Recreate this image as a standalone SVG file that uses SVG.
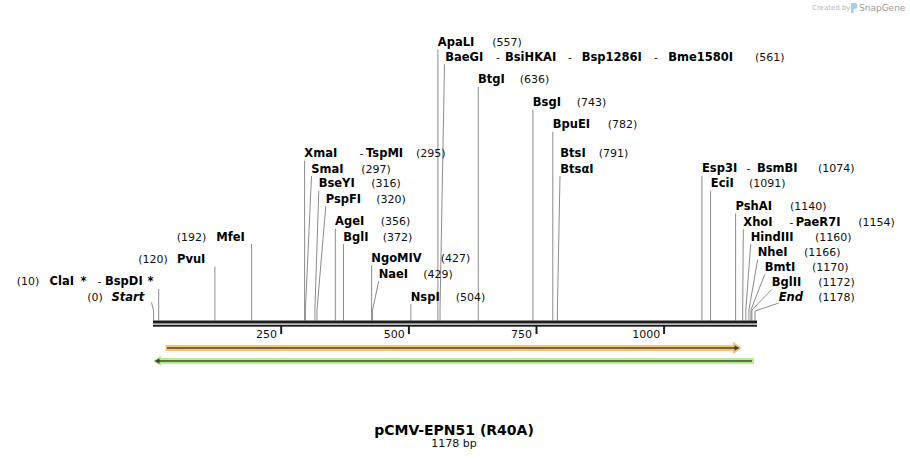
<svg xmlns="http://www.w3.org/2000/svg" width="910" height="460" viewBox="0 0 910 460">
<style>
.n{font-family:"DejaVu Sans",Verdana,sans-serif;font-size:11.5px;font-weight:bold;fill:#000}
.i{font-style:italic}
.p{font-family:"DejaVu Sans",Verdana,sans-serif;font-size:11px;fill:#111}
.t{font-family:"DejaVu Sans",Verdana,sans-serif;font-size:11px;fill:#111;text-anchor:end}
.ln{stroke:#8c8c8c;stroke-width:1;fill:none}
.bar{fill:#1e1e1e}
.tk{fill:#1e1e1e}
.fl{stroke-width:1.6;fill:none}
</style>
<rect width="910" height="460" fill="#fff"/>

<g id="logo">
<text x="812" y="10" font-family="DejaVu Sans,sans-serif" font-size="7" fill="#b8b8b8">Created by</text>
<path d="M851,3 h3.5 a3,3 0 0 1 0,6 h-1 v4 h-2.5 z" fill="#a6cfea"/>
<text x="859" y="11" font-family="DejaVu Sans,sans-serif" font-size="9" fill="#9c9c9c">SnapGene</text>
</g>

<g id="connectors">
<polyline class="ln" points="151.5,302.5 153.6,311 153.6,320.5"/>
<line class="ln" x1="158.7" y1="289" x2="158.7" y2="320.5"/>
<line class="ln" x1="214.9" y1="266.5" x2="214.9" y2="320.5"/>
<line class="ln" x1="251.6" y1="244" x2="251.6" y2="320.5"/>
<line class="ln" x1="304.6" y1="160.8" x2="304.6" y2="320.5"/>
<polyline class="ln" points="311.5,176 305.4,310 305.4,320.5"/>
<polyline class="ln" points="318.8,190.8 314.9,310 314.9,320.5"/>
<polyline class="ln" points="325.8,206.2 317,310 317,320.5"/>
<line class="ln" x1="335.3" y1="228.5" x2="335.3" y2="320.5"/>
<line class="ln" x1="343.5" y1="244.2" x2="343.5" y2="320.5"/>
<line class="ln" x1="371.6" y1="265.2" x2="371.6" y2="320.5"/>
<polyline class="ln" points="378.7,281.2 372.6,310 372.6,320.5"/>
<line class="ln" x1="410.9" y1="304.2" x2="410.9" y2="320.5"/>
<line class="ln" x1="437.9" y1="49.5" x2="437.9" y2="320.5"/>
<polyline class="ln" points="444.5,64.2 440,310 440,320.5"/>
<line class="ln" x1="478.3" y1="86.8" x2="478.3" y2="320.5"/>
<line class="ln" x1="532.9" y1="109.5" x2="532.9" y2="320.5"/>
<line class="ln" x1="552.8" y1="131.8" x2="552.8" y2="320.5"/>
<polyline class="ln" points="560,176 557.4,310 557.4,320.5"/>
<line class="ln" x1="701.9" y1="175.8" x2="701.9" y2="320.5"/>
<line class="ln" x1="710.6" y1="190.8" x2="710.6" y2="320.5"/>
<line class="ln" x1="735.6" y1="213.5" x2="735.6" y2="320.5"/>
<polyline class="ln" points="743.3,229.2 742.7,310 742.7,320.5"/>
<polyline class="ln" points="750.7,244.2 745.8,310 745.8,320.5"/>
<polyline class="ln" points="757.7,259.5 748.9,310 748.9,320.5"/>
<polyline class="ln" points="764.7,274.5 750.9,310 750.9,320.5"/>
<polyline class="ln" points="771.7,289.5 751.9,310 751.9,320.5"/>
<polyline class="ln" points="778.7,303 755,311 755,320.5"/>
</g>

<g id="map">
<rect class="bar" x="153" y="320.5" width="604" height="3"/>
<rect class="bar" x="153" y="324.7" width="604" height="2"/>
<rect class="tk" x="280.2" y="326" width="2" height="8"/>
<rect class="tk" x="407.9" y="326" width="2" height="8"/>
<rect class="tk" x="535.5" y="326" width="2" height="8"/>
<rect class="tk" x="663.1" y="326" width="2" height="8"/>
<text class="t" x="277" y="337.7">250</text>
<text class="t" x="404.7" y="337.7">500</text>
<text class="t" x="532" y="337.7">750</text>
<text class="t" x="660.3" y="337.7">1000</text>
</g>

<g id="feature-orange">
<path d="M165.5,345 H733 V341.5 L741.5,348 L733,354.5 V351 H165.5 Z" fill="#f8c56e"/>
<path class="fl" d="M167,348 H736" stroke="#4d4236"/>
<polygon points="734.5,345.3 739.5,348 734.5,350.7" fill="#4d4236"/>
</g>

<g id="feature-green">
<path d="M153.3,361 L161,355.7 V358 H754 V364 H161 V366.3 Z" fill="#b5ef8b"/>
<path class="fl" d="M157,361 H752" stroke="#3e4a36"/>
<polygon points="159.5,358.3 154.5,361 159.5,363.7" fill="#3e4a36"/>
</g>

<g id="start"><text y="301"><tspan class="p" x="87.3">(0)</tspan><tspan class="n i" x="111.5">Start</tspan></text></g>
<g id="ClaI"><text y="285.3"><tspan class="p" x="16.7">(10)</tspan><tspan class="n" x="49.5">ClaI</tspan><tspan class="n" x="80.5">*</tspan><tspan class="p" x="97.5">-</tspan><tspan class="n" x="105">BspDI</tspan><tspan class="n" x="147.5">*</tspan></text></g>
<g id="PvuI"><text y="263.3"><tspan class="p" x="138.3">(120)</tspan><tspan class="n" x="177">PvuI</tspan></text></g>
<g id="MfeI"><text y="240.7"><tspan class="p" x="176.7">(192)</tspan><tspan class="n" x="216.3">MfeI</tspan></text></g>

<g id="XmaI"><text y="157.3"><tspan class="n" x="304.3">XmaI</tspan><tspan class="p" x="359.5">-</tspan><tspan class="n" x="366">TspMI</tspan><tspan class="p" x="416">(295)</tspan></text></g>
<g id="SmaI"><text y="172.7"><tspan class="n" x="311.3">SmaI</tspan><tspan class="p" x="361.3">(297)</tspan></text></g>
<g id="BseYI"><text y="187.3"><tspan class="n" x="318.7">BseYI</tspan><tspan class="p" x="371.3">(316)</tspan></text></g>
<g id="PspFI"><text y="202.7"><tspan class="n" x="325.7">PspFI</tspan><tspan class="p" x="376.3">(320)</tspan></text></g>
<g id="AgeI"><text y="225"><tspan class="n" x="335">AgeI</tspan><tspan class="p" x="380.7">(356)</tspan></text></g>
<g id="BglI"><text y="240.7"><tspan class="n" x="343.3">BglI</tspan><tspan class="p" x="382.7">(372)</tspan></text></g>
<g id="NgoMIV"><text y="261.7"><tspan class="n" x="371.3">NgoMIV</tspan><tspan class="p" x="440.7">(427)</tspan></text></g>
<g id="NaeI"><text y="277.7"><tspan class="n" x="378.7">NaeI</tspan><tspan class="p" x="423.3">(429)</tspan></text></g>
<g id="NspI"><text y="300.7"><tspan class="n" x="410.7">NspI</tspan><tspan class="p" x="455.7">(504)</tspan></text></g>

<g id="ApaLI"><text y="46"><tspan class="n" x="437.8">ApaLI</tspan><tspan class="p" x="492.3">(557)</tspan></text></g>
<g id="BaeGI"><text y="60.7"><tspan class="n" x="445.3">BaeGI</tspan><tspan class="p" x="496">-</tspan><tspan class="n" x="505">BsiHKAI</tspan><tspan class="p" x="568">-</tspan><tspan class="n" x="581.7">Bsp1286I</tspan><tspan class="p" x="654">-</tspan><tspan class="n" x="668.3">Bme1580I</tspan><tspan class="p" x="755">(561)</tspan></text></g>
<g id="BtgI"><text y="83.3"><tspan class="n" x="478">BtgI</tspan><tspan class="p" x="519.7">(636)</tspan></text></g>
<g id="BsgI"><text y="106"><tspan class="n" x="532.8">BsgI</tspan><tspan class="p" x="576.7">(743)</tspan></text></g>
<g id="BpuEI"><text y="128.3"><tspan class="n" x="552.8">BpuEI</tspan><tspan class="p" x="607.7">(782)</tspan></text></g>
<g id="BtsI"><text y="157.3"><tspan class="n" x="560.3">BtsI</tspan><tspan class="p" x="598.8">(791)</tspan></text><text class="n" x="560.3" y="172.5">BtsαI</text></g>

<g id="Esp3I"><text y="172.3"><tspan class="n" x="702">Esp3I</tspan><tspan class="p" x="746.5">-</tspan><tspan class="n" x="757">BsmBI</tspan><tspan class="p" x="818">(1074)</tspan></text></g>
<g id="EciI"><text y="187.3"><tspan class="n" x="710.8">EciI</tspan><tspan class="p" x="749">(1091)</tspan></text></g>
<g id="PshAI"><text y="210"><tspan class="n" x="735.5">PshAI</tspan><tspan class="p" x="790">(1140)</tspan></text></g>
<g id="XhoI"><text y="225.7"><tspan class="n" x="743.3">XhoI</tspan><tspan class="p" x="789.5">-</tspan><tspan class="n" x="795.7">PaeR7I</tspan><tspan class="p" x="858.3">(1154)</tspan></text></g>
<g id="HindIII"><text y="240.7"><tspan class="n" x="750.7">HindIII</tspan><tspan class="p" x="815">(1160)</tspan></text></g>
<g id="NheI"><text y="256"><tspan class="n" x="757.7">NheI</tspan><tspan class="p" x="804">(1166)</tspan></text></g>
<g id="BmtI"><text y="271"><tspan class="n" x="764.7">BmtI</tspan><tspan class="p" x="812">(1170)</tspan></text></g>
<g id="BglII"><text y="286"><tspan class="n" x="771.7">BglII</tspan><tspan class="p" x="818.3">(1172)</tspan></text></g>
<g id="end"><text y="301"><tspan class="n i" x="778.7">End</tspan><tspan class="p" x="818.3">(1178)</tspan></text></g>

<g id="title">
<text x="454" y="435" text-anchor="middle" font-family="DejaVu Sans,Verdana,sans-serif" font-size="14" font-weight="bold" fill="#000">pCMV-EPN51 (R40A)</text>
<text x="454" y="447" text-anchor="middle" font-family="DejaVu Sans,Verdana,sans-serif" font-size="11" fill="#111">1178 bp</text>
</g>
</svg>
